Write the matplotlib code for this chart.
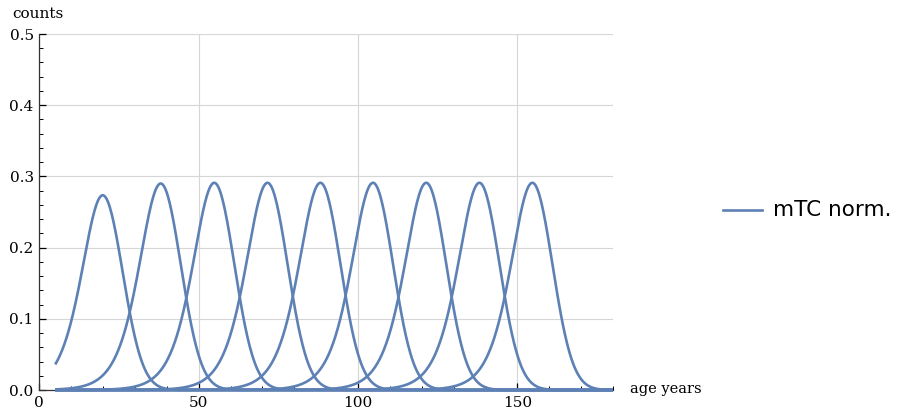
import numpy as np
import matplotlib.pyplot as plt
from matplotlib.ticker import MultipleLocator

# peak positions / heights / half-widths
peak_age = [19.9, 38.1, 54.9, 71.6, 88.2, 104.7, 121.4, 138.1, 154.7]
peak_height = [0.2735, 0.290, 0.291, 0.291, 0.291, 0.291, 0.291, 0.291, 0.291]
left_width = [4.45, 4.55, 4.55, 4.55, 4.55, 4.55, 4.55, 4.55, 4.55]
right_width = [6.25, 6.3, 6.3, 6.3, 6.3, 6.3, 6.3, 6.3, 6.3]
age_start, age_end = 5, 180

x_ticks = [0, 50, 100, 150]
y_ticks = [0.0, 0.1, 0.2, 0.3, 0.4, 0.5]

color = '#5E81B5'
serif = 'DejaVu Serif'

fig = plt.figure(figsize=(9, 4.18), dpi=100)
ax = fig.add_axes([39.3/900, 28/418, (613-39.3)/900, (390-34)/418])

ages = np.linspace(age_start, age_end, 1000)
for c, h, sl, sr in zip(peak_age, peak_height, left_width, right_width):
    d = ages - c
    # heavier tail on the young side, lighter on the old side
    y = np.where(d < 0, h / np.cosh(d / (2*sl))**2, h * np.exp(-d**2 / (2*sr**2)))
    ax.plot(ages, y, color=color, lw=1.9, solid_capstyle='butt', clip_on=False, zorder=3)

ax.set_xlim(0, 180)
ax.set_ylim(0, 0.5)
ax.set_xticks(x_ticks)
ax.set_yticks(y_ticks)
ax.set_yticklabels(['%.1f' % v for v in y_ticks])
ax.xaxis.set_minor_locator(MultipleLocator(10))
ax.yaxis.set_minor_locator(MultipleLocator(0.02))
ax.tick_params(which='major', direction='in', length=5, width=0.9, labelsize=11, pad=4)
ax.tick_params(which='minor', direction='in', length=3, width=0.7)
for lab in ax.get_xticklabels() + ax.get_yticklabels():
    lab.set_family(serif)

ax.grid(True, which='major', color='#d6d6d6', lw=0.8)
ax.spines['top'].set_visible(False)
ax.spines['right'].set_visible(False)
for sp in ['left', 'bottom']:
    ax.spines[sp].set_linewidth(0.9)
    ax.spines[sp].set_color('#333333')

fig.text(12/900, 1 - 14/418, 'counts', family=serif, fontsize=11, va='center', ha='left')
fig.text(630/900, 1 - 389/418, 'age years', family=serif, fontsize=10.5, va='center', ha='left')

# legend
fig.add_artist(plt.Line2D([723/900, 762/900], [1 - 210/418]*2, color=color, lw=1.9))
fig.text(773/900, 1 - 210/418, 'mTC norm.', family='DejaVu Sans', fontsize=15.5, va='center', ha='left')

fig.savefig('out.png', dpi=100)
